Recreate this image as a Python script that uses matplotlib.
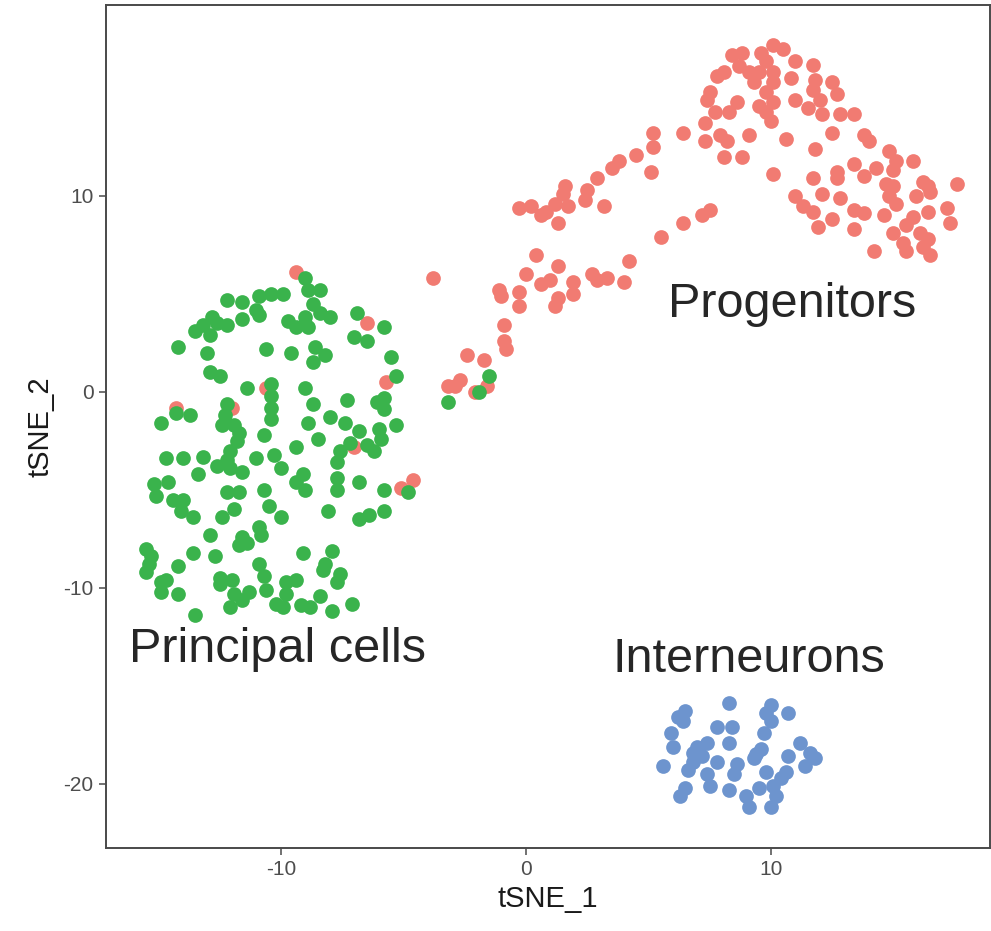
import numpy as np
import matplotlib
matplotlib.use("Agg")
import matplotlib.pyplot as plt

plt.rcParams["axes.unicode_minus"] = False

# t-SNE embedding, one array of (tSNE_1, tSNE_2) pairs per cell population
progenitors = np.array([
    (-9.4, 6.1), (-6.5, 3.5), (-5.7, 0.5), (-10.6, 0.2), (-14.3, -0.8), (-12.0, -0.8), (-7.0, -2.8),
    (-5.1, -4.9), (-4.6, -4.5),
    (-3.8, 5.8), (0.4, 7.0), (1.3, 6.4), (0.0, 6.0), (-1.1, 5.2), (-1.0, 4.9), (-0.3, 5.1), (-0.3, 4.4),
    (0.6, 5.5), (1.0, 5.7), (1.3, 4.8), (1.2, 4.4), (1.9, 5.6), (1.9, 5.0), (2.7, 6.0), (2.9, 5.7),
    (3.3, 5.8), (4.0, 5.6), (4.2, 6.7), (5.5, 7.9), (6.4, 8.6),
    (-0.9, 3.4), (-0.9, 2.6), (-0.8, 2.2), (-2.4, 1.9), (-1.7, 1.6), (-2.7, 0.6), (-3.2, 0.3),
    (-2.9, 0.3), (-2.1, 0.0), (-1.6, 0.3),
    (-0.3, 9.4), (0.2, 9.5), (0.6, 9.0), (0.8, 9.2), (1.2, 9.6), (1.3, 8.6), (1.6, 10.5), (1.5, 10.1),
    (1.7, 9.5), (2.4, 9.8), (2.5, 10.3), (2.9, 10.9), (3.2, 9.5), (3.5, 11.4), (3.8, 11.8), (4.5, 12.1),
    (5.2, 12.5), (5.1, 11.2), (5.2, 13.2), (6.4, 13.2), (7.2, 9.0), (7.5, 9.3),
    (8.4, 17.2), (8.8, 17.3), (9.6, 17.3), (10.1, 17.7), (10.5, 17.5), (11.0, 16.9), (11.7, 16.7),
    (9.8, 16.9), (8.7, 16.6), (9.1, 16.3), (9.5, 16.3), (10.1, 16.3), (7.8, 16.1), (8.1, 16.3),
    (10.1, 15.8), (9.3, 15.8), (10.8, 16.0), (11.8, 15.9), (12.5, 15.8), (7.5, 15.3), (7.4, 14.9),
    (9.8, 15.3), (11.7, 15.4), (12.7, 15.2), (8.6, 14.8), (8.3, 14.3), (7.7, 14.3), (9.5, 14.6),
    (10.1, 14.8), (9.8, 14.3), (10.0, 13.8), (11.0, 14.9), (11.5, 14.5), (12.0, 14.9), (12.1, 14.2),
    (12.8, 14.2), (13.4, 14.2), (7.3, 13.7), (7.3, 12.8), (7.9, 13.1), (8.2, 12.8), (9.1, 13.1),
    (10.6, 12.9), (11.8, 12.4), (12.5, 13.2), (13.8, 13.1), (14.0, 12.8), (8.1, 12.0), (8.8, 12.0),
    (14.8, 12.3), (15.1, 11.8), (15.8, 11.8), (10.1, 11.1), (13.4, 11.6), (12.7, 11.2), (12.7, 10.9),
    (14.3, 11.4), (13.8, 11.0), (15.0, 11.3), (11.7, 10.9), (14.7, 10.6), (15.0, 10.5), (16.2, 10.7),
    (16.4, 10.5), (17.6, 10.6), (12.1, 10.1), (12.8, 9.9), (11.0, 10.0), (11.3, 9.5), (11.7, 9.2),
    (14.8, 10.0), (15.1, 9.6), (15.9, 10.0), (16.5, 10.2), (13.4, 9.3), (13.8, 9.1), (14.6, 9.0),
    (16.4, 9.2), (17.2, 9.4), (11.9, 8.4), (12.5, 8.8), (13.4, 8.3), (15.8, 8.9), (15.5, 8.5),
    (15.0, 8.1), (16.1, 8.1), (16.4, 7.8), (17.3, 8.6), (15.4, 7.6), (16.2, 7.4), (14.2, 7.2),
    (15.5, 7.2), (16.5, 7.0),
])

principal_cells = np.array([
    (-9.0, 5.8), (-8.9, 5.2), (-8.4, 5.2), (-8.7, 4.5), (-8.4, 4.0), (-8.0, 3.8), (-12.2, 4.7),
    (-11.6, 4.6), (-10.9, 4.9), (-10.4, 5.0), (-9.9, 5.0), (-11.0, 4.2), (-10.9, 3.9), (-11.6, 3.7),
    (-12.8, 3.8), (-13.2, 3.4), (-13.5, 3.1), (-12.6, 3.5), (-12.2, 3.4), (-12.9, 2.9), (-9.7, 3.6),
    (-9.4, 3.3), (-9.0, 3.8), (-8.9, 3.3), (-6.9, 4.0), (-7.0, 2.8), (-6.5, 2.6), (-5.8, 3.3),
    (-5.5, 1.8), (-5.3, 0.8), (-14.2, 2.3), (-13.0, 2.0), (-10.6, 2.2), (-9.6, 2.0), (-8.6, 2.3),
    (-8.2, 1.9), (-8.7, 1.5), (-12.9, 1.0), (-12.5, 0.8), (-11.4, 0.2), (-10.4, 0.4), (-10.4, -0.2),
    (-10.4, -0.8), (-10.4, -1.4), (-9.0, 0.2), (-8.7, -0.6), (-7.3, -0.4), (-6.1, -0.5), (-5.8, -0.3),
    (-5.8, -0.9), (-12.2, -0.6), (-14.3, -1.1), (-13.7, -1.2), (-14.9, -1.6), (-12.3, -1.2),
    (-12.4, -1.7), (-11.9, -1.7), (-11.7, -2.1), (-11.8, -2.5), (-10.7, -2.2), (-8.9, -1.6),
    (-8.0, -1.3), (-7.4, -1.6), (-8.5, -2.4), (-6.8, -2.0), (-6.0, -1.9), (-5.3, -1.7), (-5.9, -2.4),
    (-7.2, -2.6), (-9.4, -2.8), (-6.5, -2.7), (-6.2, -3.0), (-7.6, -3.0), (-14.7, -3.4), (-14.0, -3.4),
    (-13.2, -3.3), (-12.1, -3.0), (-12.2, -3.5), (-12.6, -3.8), (-12.1, -3.9), (-11.6, -4.1),
    (-13.4, -4.2), (-11.0, -3.4), (-10.3, -3.2), (-10.0, -3.9), (-7.7, -3.6), (-15.2, -4.7),
    (-14.6, -4.6), (-15.1, -5.3), (-14.4, -5.5), (-14.0, -5.5), (-14.1, -6.1), (-13.6, -6.4),
    (-12.2, -5.1), (-11.7, -5.1), (-11.9, -6.0), (-12.4, -6.4), (-10.7, -5.0), (-10.5, -5.8),
    (-10.0, -6.4), (-9.4, -4.6), (-9.1, -4.2), (-9.0, -5.0), (-7.7, -4.4), (-7.7, -5.0), (-6.8, -4.6),
    (-5.8, -5.0), (-4.8, -5.1), (-8.1, -6.1), (-6.8, -6.5), (-6.4, -6.3), (-5.8, -6.1), (-12.9, -7.3),
    (-10.9, -6.9), (-10.8, -7.3), (-11.6, -7.4), (-11.7, -7.8), (-11.4, -7.7), (-15.5, -8.0),
    (-15.3, -8.4), (-15.4, -8.8), (-15.5, -9.2), (-13.6, -8.2), (-12.7, -8.4), (-14.2, -8.9),
    (-9.1, -8.2), (-7.9, -8.1), (-10.9, -8.8), (-8.2, -8.8), (-8.3, -9.1), (-14.9, -9.7), (-14.7, -9.6),
    (-14.9, -10.2), (-14.2, -10.3), (-12.5, -9.5), (-12.5, -9.8), (-12.0, -9.6), (-11.9, -10.3),
    (-11.3, -10.2), (-11.6, -10.6), (-10.7, -9.4), (-10.6, -10.1), (-9.8, -9.7), (-9.4, -9.6),
    (-9.8, -10.3), (-7.6, -9.3), (-7.7, -9.7), (-8.4, -10.4), (-7.1, -10.8), (-10.2, -10.8),
    (-9.9, -11.0), (-9.2, -10.9), (-8.8, -11.0), (-12.1, -11.0), (-13.5, -11.4), (-7.9, -11.2),
    (-1.5, 0.8), (-1.9, 0.0), (-3.2, -0.5),
])

interneurons = np.array([
    (8.3, -15.9), (10.0, -16.0), (10.7, -16.4), (9.8, -16.4), (6.5, -16.3), (6.2, -16.6), (6.4, -16.8),
    (7.8, -17.1), (8.4, -17.1), (10.0, -16.8), (9.7, -17.4), (5.9, -17.4), (6.0, -18.1), (8.3, -17.9),
    (7.4, -17.9), (7.0, -18.1), (6.8, -18.4), (9.6, -18.2), (9.4, -18.5), (11.2, -17.9), (11.6, -18.4),
    (11.8, -18.7), (11.4, -19.1), (10.7, -18.6), (9.3, -18.7), (5.6, -19.1), (6.6, -19.3), (6.8, -18.9),
    (7.2, -18.6), (7.8, -18.9), (8.6, -19.0), (8.5, -19.5), (7.4, -19.5), (9.8, -19.4), (10.6, -19.4),
    (10.4, -19.7), (7.5, -20.1), (8.3, -20.3), (6.5, -20.2), (6.3, -20.6), (9.5, -20.2), (10.1, -20.1),
    (10.2, -20.6), (9.0, -20.6), (9.1, -21.2), (10.0, -21.2),
])

cluster_names = ["Progenitors", "Principal cells", "Interneurons"]
cluster_colors = ["#F17B72", "#3AB34C", "#6D94CE"]
label_anchor = [(5.8, 3.8), (-16.2, -13.8), (3.55, -14.3)]

x_ticks = [-10, 0, 10]
y_ticks = [-20, -10, 0, 10]

fig = plt.figure(figsize=(9.91, 9.31), dpi=100)
ax = fig.add_axes([0.107, 0.0892, 0.892, 0.9055])

for pts, col in zip([progenitors, principal_cells, interneurons], cluster_colors):
    ax.scatter(pts[:, 0], pts[:, 1], s=112, c=col, linewidths=0, zorder=2)

for name, (tx, ty) in zip(cluster_names, label_anchor):
    ax.text(tx, ty, name, fontsize=35, color="#262626", ha="left", va="baseline",
            family=["Liberation Sans", "DejaVu Sans"], zorder=3)

ax.set_xlim(-17.14, 18.94)
ax.set_ylim(-23.27, 19.74)
ax.set_xticks(x_ticks)
ax.set_yticks(y_ticks)

axis_font = ["Liberation Sans Narrow", "Liberation Sans", "DejaVu Sans"]
for sp in ax.spines.values():
    sp.set_color("#4a4a4a")
    sp.set_linewidth(1.4)
ax.tick_params(length=5, width=1.1, color="#4a4a4a", labelcolor="#4D4D4D",
               labelsize=15, pad=4)
for lab in ax.get_xticklabels() + ax.get_yticklabels():
    lab.set_family(axis_font)
ax.set_xlabel("tSNE_1", fontsize=21, color="#1a1a1a", family=axis_font, labelpad=4)
ax.set_ylabel("tSNE_2", fontsize=21, color="#1a1a1a", family=axis_font, labelpad=6)

fig.savefig("out.png", dpi=100, facecolor="white")
